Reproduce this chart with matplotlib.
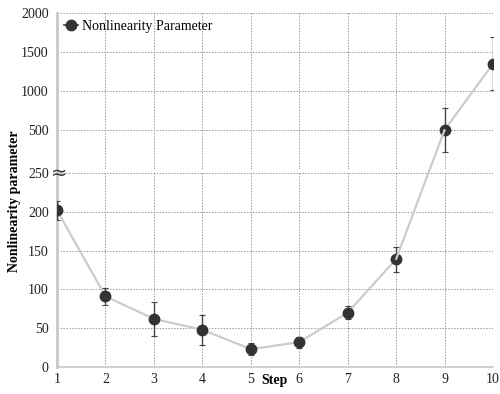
import matplotlib
matplotlib.use("Agg")
import matplotlib.pyplot as plt
from matplotlib.patches import ConnectionPatch

plt.rcParams['font.family'] = ['Liberation Serif', 'DejaVu Serif']

steps = [1, 2, 3, 4, 5, 6, 7, 8, 9, 10]
values = [202, 91, 62, 48, 23, 32, 70, 139, 500, 1350]
errors = [12, 11, 22, 19, 8, 7, 8, 16, 280, 340]
low_ticks = [0, 50, 100, 150, 200, 250]
high_ticks = [500, 1000, 1500, 2000]
split = 8  # first 8 steps on the low scale, the rest on the high scale

LINE = '#cccccc'
DOT = '#333333'
ERR = '#444444'

fig = plt.figure(figsize=(5.0, 3.94), dpi=100)
ax_hi = fig.add_axes([0.114, 0.571, 0.872, 0.396])
ax_lo = fig.add_axes([0.114, 0.0685, 0.872, 0.4925])


def draw(ax, xs, ys, es):
    ax.plot(xs, ys, color=LINE, lw=1.6, zorder=2)
    ax.errorbar(xs, ys, yerr=es, fmt='none', ecolor=ERR,
                elinewidth=1.0, capsize=2, capthick=0.8, zorder=3)
    ax.plot(xs, ys, 'o', color=DOT, ms=7.5, zorder=4)


draw(ax_lo, steps[:split], values[:split], errors[:split])
draw(ax_hi, steps[split:], values[split:], errors[split:])

# segment that crosses the break
con = ConnectionPatch(xyA=(steps[split - 1], values[split - 1]), coordsA=ax_lo.transData,
                      xyB=(steps[split], values[split]), coordsB=ax_hi.transData,
                      color=LINE, lw=1.6, zorder=1)
fig.add_artist(con)

for ax in (ax_lo, ax_hi):
    ax.set_xlim(1, 10)
    ax.set_xticks(steps)
    ax.tick_params(axis='both', length=0, labelsize=10, colors='#222222', pad=4)
    ax.tick_params(axis='y', pad=6)
    ax.grid(True, color='#999999', ls=(0, (1.5, 1.5)), lw=0.7)
    ax.set_axisbelow(True)
    for s in ['top', 'right']:
        ax.spines[s].set_visible(False)
    ax.spines['left'].set_color('#c8c8c8')
    ax.spines['left'].set_linewidth(2)
    ax.patch.set_alpha(0)

ax_lo.set_ylim(0, 250)
ax_lo.set_yticks(low_ticks)
ax_lo.spines['bottom'].set_color('#c8c8c8')
ax_lo.spines['bottom'].set_linewidth(1.2)

ax_hi.set_ylim(0, 2000)
ax_hi.set_yticks(high_ticks)
ax_hi.tick_params(axis='x', labelbottom=False)
ax_hi.spines['bottom'].set_visible(False)

ax_hi.plot([], [], '-o', color=DOT, ms=7.5, lw=1.2, label='Nonlinearity Parameter')
ax_hi.legend(loc='upper left', frameon=False, fontsize=10,
             handlelength=1.0, handletextpad=0.3,
             borderaxespad=0.1, bbox_to_anchor=(0.0, 1.0))

ax_lo.text(0.006, 250, '\u2248', transform=ax_lo.get_yaxis_transform(),
           fontsize=14, ha='center', va='center', color=DOT,
           family=['DejaVu Sans'], clip_on=False)

fig.text(0.03, 0.49, 'Nonlinearity parameter', fontsize=10, fontweight='bold',
         rotation=90, ha='center', va='center')
fig.text(0.55, 0.025, 'Step', fontsize=10, fontweight='bold', ha='center')

fig.savefig('out.png', dpi=100)
